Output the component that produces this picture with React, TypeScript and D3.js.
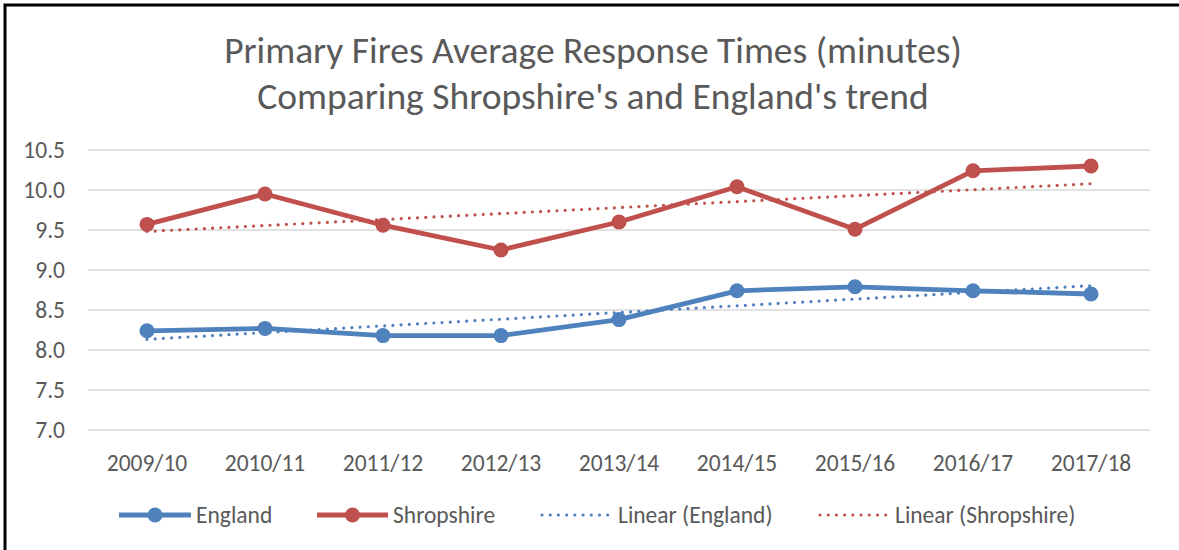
import React, { useEffect, useRef } from "react";
import * as d3 from "d3";

const years = ["2009/10", "2010/11", "2011/12", "2012/13", "2013/14", "2014/15", "2015/16", "2016/17", "2017/18"];
const england = [8.24, 8.27, 8.18, 8.18, 8.38, 8.74, 8.79, 8.74, 8.7];
const shropshire = [9.57, 9.95, 9.56, 9.25, 9.6, 10.04, 9.51, 10.24, 10.3];
const yTicks = [7.0, 7.5, 8.0, 8.5, 9.0, 9.5, 10.0, 10.5];
const titleLines = ["Primary Fires Average Response Times (minutes)", "Comparing Shropshire's and England's trend"];

const BLUE = "#4F81BD";
const RED = "#C0504D";
const TEXT = "#595959";
const FONT = "Calibri, Carlito, Lato, sans-serif";

// least squares fit, like Excel's "Linear" trendline
const linearFit = (vals: number[]) => {
  const xs = vals.map((_, i) => i);
  const mx = d3.mean(xs) as number;
  const my = d3.mean(vals) as number;
  const slope = d3.sum(xs, (x, i) => (x - mx) * (vals[i] - my)) / d3.sum(xs, (x) => (x - mx) ** 2);
  return [0, vals.length - 1].map((x) => my + slope * (x - mx));
};

const App = () => {
  const svgRef = useRef<SVGSVGElement>(null);

  useEffect(() => {
    document.body.style.margin = "0";
    const svg = d3.select(svgRef.current);
    svg.selectAll("*").remove();

    const width = 1179, height = 550;
    const x = d3.scaleBand().domain(years).range([88, 1150]);
    const y = d3.scaleLinear().domain([7, 10.5]).range([430, 150]);
    const cx = (i: number) => (x(years[i]) as number) + x.bandwidth() / 2;

    svg.append("rect").attr("width", width).attr("height", height).attr("fill", "#fff");
    // chart border (only top and left visible in the crop)
    svg.append("path")
      .attr("d", `M5,${height} V5 H${width}`)
      .attr("fill", "none").attr("stroke", "#000").attr("stroke-width", 3);

    // title
    svg.append("text")
      .attr("x", 593).attr("y", 63)
      .attr("text-anchor", "middle")
      .attr("font-family", FONT).attr("font-size", 37.5).attr("fill", TEXT)
      .selectAll("tspan").data(titleLines).join("tspan")
      .attr("x", 593).attr("dy", (_, i) => (i === 0 ? 0 : 46))
      .text((d) => d);

    // gridlines + y labels
    const yAxis = svg.append("g");
    yAxis.selectAll("line").data(yTicks).join("line")
      .attr("x1", 88).attr("x2", 1150)
      .attr("y1", (d) => y(d)).attr("y2", (d) => y(d))
      .attr("stroke", "#D9D9D9").attr("stroke-width", 1.5);
    yAxis.selectAll("text").data(yTicks).join("text")
      .attr("x", 65).attr("y", (d) => y(d) + 8)
      .attr("text-anchor", "end")
      .attr("font-family", FONT).attr("font-size", 23.5).attr("fill", TEXT)
      .text((d) => d3.format(".1f")(d));

    // x labels
    svg.append("g").selectAll("text").data(years).join("text")
      .attr("x", (_, i) => cx(i)).attr("y", 471)
      .attr("text-anchor", "middle")
      .attr("font-family", FONT).attr("font-size", 23.5).attr("fill", TEXT)
      .text((d) => d);

    const line = d3.line<number>().x((_, i) => cx(i)).y((d) => y(d));

    // trendlines
    const trends = [
      { vals: england, color: BLUE },
      { vals: shropshire, color: RED },
    ];
    trends.forEach(({ vals, color }) => {
      const [a, b] = linearFit(vals);
      svg.append("line")
        .attr("x1", cx(0)).attr("y1", y(a))
        .attr("x2", cx(vals.length - 1)).attr("y2", y(b))
        .attr("stroke", color).attr("stroke-width", 3.2)
        .attr("stroke-linecap", "round").attr("stroke-dasharray", "0.01 8.2");
    });

    // series lines + markers
    const series = [
      { vals: england, color: BLUE },
      { vals: shropshire, color: RED },
    ];
    series.forEach(({ vals, color }) => {
      svg.append("path")
        .attr("d", line(vals))
        .attr("fill", "none").attr("stroke", color).attr("stroke-width", 4.8)
        .attr("stroke-linejoin", "round");
      svg.append("g").selectAll("circle").data(vals).join("circle")
        .attr("cx", (_, i) => cx(i)).attr("cy", (d) => y(d))
        .attr("r", 7.5).attr("fill", color);
    });

    // legend
    const legendY = 515;
    const legendItems = [
      { label: "England", color: BLUE, x0: 119, x1: 191, tx: 196, marker: true },
      { label: "Shropshire", color: RED, x0: 317, x1: 388, tx: 393, marker: true },
      { label: "Linear (England)", color: BLUE, x0: 542, x1: 611, tx: 618, marker: false },
      { label: "Linear (Shropshire)", color: RED, x0: 820, x1: 888, tx: 895, marker: false },
    ];
    const lg = svg.append("g");
    legendItems.forEach((it) => {
      const l = lg.append("line")
        .attr("x1", it.x0).attr("x2", it.x1)
        .attr("y1", legendY).attr("y2", legendY)
        .attr("stroke", it.color);
      if (it.marker) {
        l.attr("stroke-width", 4.8);
        lg.append("circle").attr("cx", (it.x0 + it.x1) / 2).attr("cy", legendY)
          .attr("r", 7.5).attr("fill", it.color);
      } else {
        l.attr("stroke-width", 3.2).attr("stroke-linecap", "round").attr("stroke-dasharray", "0.01 8.2");
      }
      lg.append("text")
        .attr("x", it.tx).attr("y", legendY + 8)
        .attr("font-family", FONT).attr("font-size", 23.5).attr("fill", TEXT)
        .text(it.label);
    });
  }, []);

  return <svg ref={svgRef} width={1179} height={550} style={{ display: "block" }}></svg>;
};

export default App;
